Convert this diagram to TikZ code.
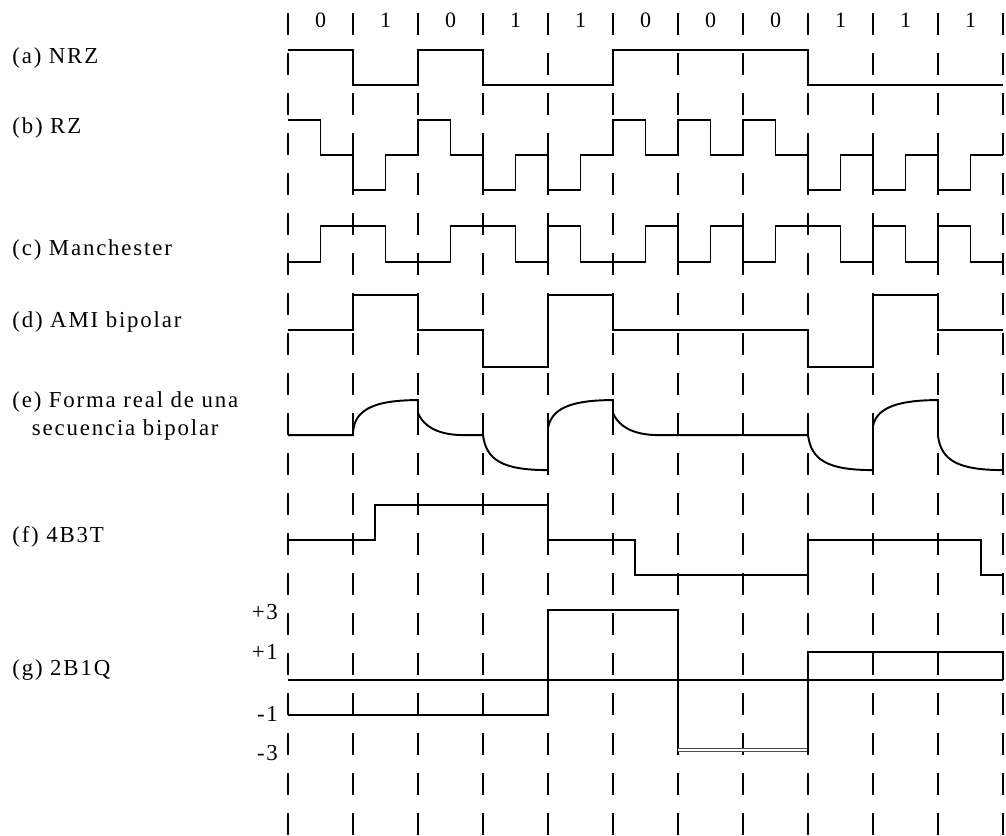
\documentclass[tikz,border=0pt]{standalone}
\usepackage{fontspec}
\setmainfont{Liberation Serif}[LetterSpace=8]
\begin{document}
\begin{tikzpicture}[x=1.3cm, y=-0.02cm,
  senal/.style={line width=1.1pt},
  rejilla/.style={line width=1.1pt, dash pattern=on 0.44cm off 0.36cm},
  rotulo/.style={anchor=west, inner sep=0pt, font=\fontsize{13}{15.5}\selectfont},
  nivel/.style={anchor=east, inner sep=0pt, font=\fontsize{13}{15.5}\selectfont}]

\useasboundingbox (-4.4308,0) rectangle (11.0462,835);

% Rejilla de bits
\foreach \k in {0,...,11}
  \draw[rejilla] (\k,13) -- (\k,835);

% Secuencia
\foreach \b [count=\i from 0] in {0,1,0,1,1,0,0,0,1,1,1}
  \node[font=\fontsize{12.5}{15}\selectfont] (bit\i) at (\i+0.5,20) {\b};

% (a) NRZ
\node[rotulo] (lblA) at (-4.246,58) {(a) NRZ};
\draw[senal]
(0,50) -- (1,50) -- (1,85) -- (2,85)
-- (2,50) -- (3,50) -- (3,85) -- (5,85)
-- (5,50) -- (8,50) -- (8,85) -- (11,85);

% (b) RZ
\node[rotulo] (lblB) at (-4.246,128) {(b) RZ};
\draw[senal]
(0,120) -- (0.5,120) -- (0.5,155) -- (1,155)
-- (1,190) -- (1.5,190) -- (1.5,155) -- (2,155)
-- (2,120) -- (2.5,120) -- (2.5,155) -- (3,155)
-- (3,190) -- (3.5,190) -- (3.5,155) -- (4,155)
-- (4,190) -- (4.5,190) -- (4.5,155) -- (5,155)
-- (5,120) -- (5.5,120) -- (5.5,155) -- (6,155)
-- (6,120) -- (6.5,120) -- (6.5,155) -- (7,155)
-- (7,120) -- (7.5,120) -- (7.5,155) -- (8,155)
-- (8,190) -- (8.5,190) -- (8.5,155) -- (9,155)
-- (9,190) -- (9.5,190) -- (9.5,155) -- (10,155)
-- (10,190) -- (10.5,190) -- (10.5,155) -- (11,155);

% (c) Manchester
\node[rotulo] (lblC) at (-4.246,250) {(c) Manchester};
\draw[senal]
(0,262) -- (0.5,262) -- (0.5,226) -- (1.5,226)
-- (1.5,262) -- (2.5,262) -- (2.5,226) -- (3.5,226)
-- (3.5,262) -- (4,262) -- (4,226) -- (4.5,226)
-- (4.5,262) -- (5.5,262) -- (5.5,226) -- (6,226)
-- (6,262) -- (6.5,262) -- (6.5,226) -- (7,226)
-- (7,262) -- (7.5,262) -- (7.5,226) -- (8.5,226)
-- (8.5,262) -- (9,262) -- (9,226) -- (9.5,226)
-- (9.5,262) -- (10,262) -- (10,226) -- (10.5,226)
-- (10.5,262) -- (11,262);

% (d) AMI bipolar
\node[rotulo] (lblD) at (-4.246,322) {(d) AMI bipolar};
\draw[senal]
(0,330) -- (1,330) -- (1,295) -- (2,295)
-- (2,330) -- (3,330) -- (3,367) -- (4,367)
-- (4,295) -- (5,295) -- (5,330) -- (8,330)
-- (8,367) -- (9,367) -- (9,295) -- (10,295)
-- (10,330) -- (11,330);

% (e) Forma real
\node[rotulo, align=center] (lblE) at (-4.246,416) {(e) Forma real de una\\secuencia bipolar};
\draw[senal]
(0,435) -- (1,435)
.. controls (1,412) and (1.25,400) .. (2,400)
-- (2,413)
.. controls (2.1,428) and (2.35,435) .. (2.7,435)
-- (3,435)
.. controls (3.05,460) and (3.3,470) .. (4,470)
-- (4,428)
.. controls (4.05,410) and (4.3,400) .. (5,400)
-- (5,413)
.. controls (5.1,428) and (5.35,435) .. (5.7,435)
-- (8,435)
.. controls (8.05,460) and (8.3,470) .. (9,470)
-- (9,426)
.. controls (9.05,410) and (9.3,400) .. (10,400)
-- (10,436)
.. controls (10.05,460) and (10.3,470) .. (11,470);

% (f) 4B3T
\node[rotulo] (lblF) at (-4.246,537) {(f) 4B3T};
\draw[senal]
(0,540) -- (1.333,540) -- (1.333,505) -- (4,505)
-- (4,540) -- (5.333,540) -- (5.333,575) -- (8,575)
-- (8,540) -- (10.667,540) -- (10.667,575) -- (11,575);

% (g) 2B1Q
\node[rotulo] (lblG) at (-4.246,670) {(g) 2B1Q};
\node[nivel] (p3) at (-0.15,612) {+3};
\node[nivel] (p1) at (-0.15,652) {+1};
\node[nivel] (m1) at (-0.15,714) {-1};
\node[nivel] (m3) at (-0.15,753) {-3};
\draw[senal] (0,680) -- (11,680);
\draw[senal]
(0,715) -- (4,715) -- (4,610) -- (6,610) -- (6,752);
\draw[double=white, double distance=1.2pt, line width=0.45pt, black!70]
(6,750) -- (8,750);
\draw[senal]
(8,752) -- (8,652) -- (11,652) -- (11,680);

\end{tikzpicture}
\end{document}
